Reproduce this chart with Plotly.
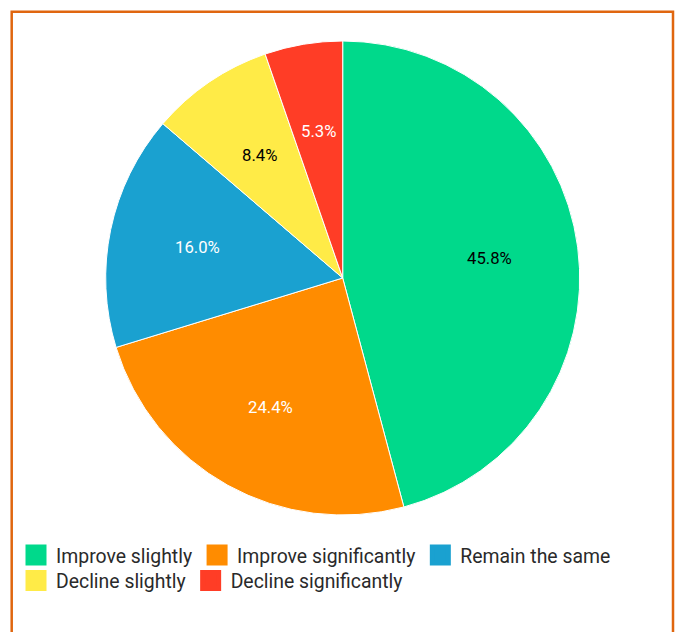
import math
import plotly.graph_objects as go

labels = ["Improve slightly", "Improve significantly", "Remain the same",
          "Decline slightly", "Decline significantly"]
values = [45.8, 24.4, 16.0, 8.4, 5.3]
colors = ["#00D98B", "#FF8C00", "#1AA1D0", "#FFEB47", "#FF3D26"]
text_colors = ["#000000", "#FFFFFF", "#FFFFFF", "#000000", "#FFFFFF"]
legend_rows = [[0, 1, 2], [3, 4]]

W, H = 676, 632
CX, CY, R = 342.7, 278.0, 237.0   # pie centre / radius in pixels
LABEL_FRAC = 0.625                # label distance as fraction of radius

fig = go.Figure()
fig.add_trace(go.Pie(
    labels=labels,
    values=values,
    sort=False,
    direction="clockwise",
    rotation=0,
    marker=dict(colors=colors, line=dict(color="#FFFFFF", width=1)),
    textinfo="none",
    domain=dict(x=[(CX - R) / W, (CX + R) / W], y=[(H - CY - R) / H, (H - CY + R) / H]),
    hoverinfo="label+percent",
    showlegend=False,
))

# legend entries (two flowing rows)
for row_i, row in enumerate(legend_rows):
    lg = "legend" if row_i == 0 else "legend2"
    for i in row:
        fig.add_trace(go.Scatter(
            x=[None], y=[None], mode="markers", name=labels[i],
            marker=dict(symbol="square", size=16, color=colors[i],
                        line=dict(color=colors[i], width=5)),
            legend=lg, showlegend=True, hoverinfo="skip",
        ))

# percentage labels placed along each slice bisector
total = sum(values)
annotations = []
cum = 0.0
for v, tc in zip(values, text_colors):
    mid = (cum + v / 2) / total
    cum += v
    ang = 2 * math.pi * mid
    px = CX + LABEL_FRAC * R * math.sin(ang)
    py = CY - LABEL_FRAC * R * math.cos(ang)
    annotations.append(dict(
        x=px / W, y=(H - py) / H, xref="paper", yref="paper",
        text=f"{v / total * 100:.1f}%", showarrow=False,
        xanchor="center", yanchor="middle",
        font=dict(family="Roboto", size=16.7, color=tc),
    ))

legend_common = dict(
    orientation="h", xanchor="left", yanchor="middle",
    font=dict(family="Roboto", size=19.4, color="#2a2a2a"),
    bgcolor="rgba(0,0,0,0)", traceorder="normal",
    itemclick=False, itemdoubleclick=False,
)

fig.update_layout(
    width=W, height=H,
    margin=dict(l=0, r=0, t=0, b=0),
    paper_bgcolor="#FFFFFF",
    plot_bgcolor="rgba(0,0,0,0)",
    font=dict(family="Roboto", color="#2a2a2a"),
    xaxis=dict(visible=False, domain=[0, 1]),
    yaxis=dict(visible=False, domain=[0, 1]),
    legend=dict(x=16 / W, y=(H - 555.5) / H, **legend_common),
    legend2=dict(x=16 / W, y=(H - 581) / H, **legend_common),
    annotations=annotations,
    shapes=[dict(
        type="rect", xref="paper", yref="paper",
        x0=11.7 / W, x1=673 / W, y0=-0.05, y1=(H - 11.7) / H,
        line=dict(color="#E0660F", width=2.5),
        fillcolor="rgba(0,0,0,0)",
        layer="above",
    )],
)

fig.write_html("out.html")
